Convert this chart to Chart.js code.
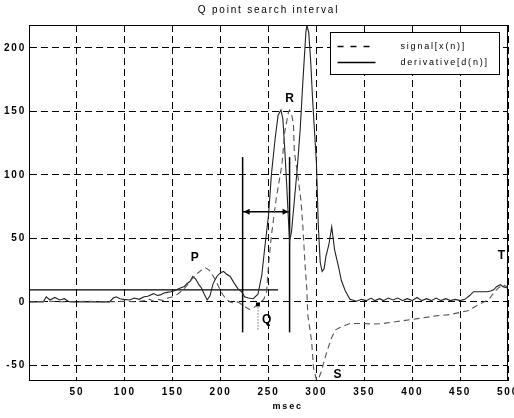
<!DOCTYPE html>
<html>
<head>
<meta charset="utf-8">
<script src="https://cdn.jsdelivr.net/npm/chart.js@4.4.1/dist/chart.umd.min.js"></script>
<style>
html, body { margin: 0; padding: 0; background: #fff; }
canvas { display: block; }
</style>
</head>
<body>
<canvas id="ecgChart" width="514" height="418"></canvas>
<script>
// values (x in msec)
const signalMs = [0, 20, 40, 60, 80, 100, 112, 120, 126, 130, 135, 140, 145, 150, 155, 160, 165, 170, 175, 180,
    184, 188, 191, 194, 198, 202, 206, 210, 214, 218, 222, 226, 230, 234, 237, 239, 242, 245, 248, 250,
    253, 258, 264, 267, 271, 272, 274, 276, 277, 281, 284, 286, 288, 290, 291, 295, 297, 300, 302, 305,
    311, 316, 320, 325, 335, 349, 359, 370, 384, 398, 411, 425, 439, 452, 458, 465, 472, 478, 481, 486,
    490, 495, 499];
const signalVal = [0, 0.5, 0, 0.5, 0, 0.5, 0, 1, 2, 0.5, 2, 1, 3, 4, 6, 9, 13, 18, 22, 25,
    27, 25, 22, 18, 12, 6, 2, 0, -1, 0, -2, -4, -6, -5, -3, -2, 0, 2, 8, 29,
    52, 81, 108, 134, 150, 151, 148, 140, 118, 97, 79, 58, 31, 10, -10, -31, -52, -61, -61, -55,
    -39, -28, -22, -20, -17, -17, -17.5, -17, -15.5, -14, -12.6, -11, -10, -8, -7, -4, -1, 1, 3, 8,
    11, 13.5, 12];

const derivMs = [0, 15, 18, 22, 27, 32, 37, 41, 46, 84, 88, 91, 95, 99, 105, 110, 115, 120, 124, 130,
    134, 137, 141, 144, 148, 151, 155, 158, 162, 165, 168, 171, 174, 177, 180, 183, 186, 189, 192, 196,
    200, 203, 206, 210, 214, 218, 222, 225, 229, 234, 239, 243, 246, 250, 253, 257, 260, 263, 265, 267,
    269, 271, 272, 274, 277, 280, 283, 286, 289, 290, 292, 294, 296, 298, 300, 302, 304, 306, 308, 310,
    313, 316, 319, 323, 326, 330, 335, 342, 347, 352, 357, 361, 366, 370, 375, 380, 385, 390, 395, 400,
    405, 410, 415, 420, 425, 430, 435, 440, 445, 450, 455, 460, 464, 470, 478, 482, 485, 488, 492, 495,
    499];
const derivVal = [0, 0, 4, 1.5, 3.5, 1.5, 2.5, 0.5, 0, 0, 3, 4, 2.5, 2, 1.5, 3, 2, 4, 4.5, 6.5,
    5, 5.5, 7, 7.5, 8, 8.5, 10, 11, 12, 14.5, 16, 20, 18, 14, 11, 6, 1.5, 5, 14, 20,
    23, 24, 22, 20, 15, 10.5, 8, 4, 3, 2.5, 6, 21, 42, 68, 100, 129, 147, 151, 144, 120,
    92, 62, 48, 55, 80, 105, 135, 175, 212, 218, 212, 190, 160, 135, 110, 60, 31, 24, 26, 36,
    45, 59, 41, 28, 17, 9, 2, 0.5, 2, 1, 3, 1, 2.5, 1, 3, 1.5, 3, 1, 2.5, 1,
    3.5, 1, 2.5, 1, 3, 1, 2.5, 1, 2, 1, 2, 5, 8, 8, 8, 8.5, 9.5, 12, 13.5, 12,
    11];

const xTicks = [50, 100, 150, 200, 250, 300, 350, 400, 450, 500];
const yTicks = [-50, 0, 50, 100, 150, 200];

// Q point search interval markers
const qWindow = [223, 272];
const qWindowSpan = [-24, 114];
const arrowLevel = 71;
const threshold = 9.5;
const thresholdEnd = 260;
const qPoint = [239, -2];
const qMarkerBottom = -22;

const waveNames = ["P", "Q", "R", "S", "T"];
const waveMs = [173, 248, 272, 322, 493];
const waveVal = [35, -14, 160, -57, 36];

const toPoints = (xs, ys) => xs.map((x, i) => ({ x: x, y: ys[i] }));

const FONT = "'Liberation Sans', Arial, sans-serif";
const SPACING = "1.8px";

const markerLine = (data, extra) => Object.assign({
    data: data,
    borderColor: "#000",
    borderWidth: 1.5,
    pointRadius: 0,
    showLine: true,
    fill: false
}, extra || {});

// extra drawing: frame, arrowheads, wave letters, legend, titles
const decorations = {
    id: "decorations",
    beforeUpdate(chart) {
        chart.ctx.letterSpacing = SPACING;
    },
    beforeDraw(chart) {
        chart.ctx.letterSpacing = SPACING;
    },
    afterDraw(chart) {
        const ctx = chart.ctx;
        const area = chart.chartArea;
        const xs = chart.scales.x;
        const ys = chart.scales.y;

        ctx.save();
        ctx.letterSpacing = SPACING;

        // frame
        ctx.strokeStyle = "#000";
        ctx.lineWidth = 1;
        ctx.strokeRect(Math.round(area.left) + 0.5, Math.round(area.top) + 0.5,
            Math.round(area.right - area.left) - 1, Math.round(area.bottom - area.top));

        // arrowheads of the search interval
        const ay = ys.getPixelForValue(arrowLevel);
        const ax1 = xs.getPixelForValue(qWindow[0]);
        const ax2 = xs.getPixelForValue(qWindow[1]);
        ctx.fillStyle = "#000";
        ctx.beginPath();
        ctx.moveTo(ax1 + 1, ay);
        ctx.lineTo(ax1 + 7, ay - 3);
        ctx.lineTo(ax1 + 7, ay + 3);
        ctx.closePath();
        ctx.fill();
        ctx.beginPath();
        ctx.moveTo(ax2 - 1, ay);
        ctx.lineTo(ax2 - 7, ay - 3);
        ctx.lineTo(ax2 - 7, ay + 3);
        ctx.closePath();
        ctx.fill();

        // Q point dot
        ctx.fillRect(xs.getPixelForValue(qPoint[0]) - 2, ys.getPixelForValue(qPoint[1]) - 2, 4, 4);

        // wave letters
        ctx.letterSpacing = "0px";
        ctx.font = "bold 12px " + FONT;
        ctx.textAlign = "center";
        ctx.textBaseline = "middle";
        waveNames.forEach((name, i) => {
            ctx.fillText(name, xs.getPixelForValue(waveMs[i]), ys.getPixelForValue(waveVal[i]));
        });
        ctx.letterSpacing = SPACING;

        // legend box
        const bw = 169, bh = 42;
        const bx = Math.round(area.right - 9 - bw) + 0.5;
        const by = Math.round(area.top + 7) + 0.5;
        ctx.fillStyle = "#fff";
        ctx.fillRect(bx, by, bw, bh);
        ctx.strokeStyle = "#000";
        ctx.lineWidth = 1;
        ctx.strokeRect(bx, by, bw, bh);

        const sets = chart.data.datasets.slice(0, 2);
        const sampleDash = [[6, 7], []];
        ctx.font = "9px " + FONT;
        ctx.textAlign = "left";
        ctx.fillStyle = "#000";
        sets.forEach((ds, i) => {
            const ly = by + 14 + i * 16;
            ctx.beginPath();
            ctx.setLineDash(sampleDash[i]);
            ctx.strokeStyle = "#000";
            ctx.lineWidth = 1.3;
            ctx.moveTo(bx + 7, ly);
            ctx.lineTo(bx + 45, ly);
            ctx.stroke();
            ctx.setLineDash([]);
            ctx.fillText(ds.label, bx + 70, ly);
        });

        // title and axis name
        ctx.font = "10px " + FONT;
        ctx.textAlign = "center";
        ctx.fillText("Q point search interval", (area.left + area.right) / 2, 10);
        ctx.font = "bold 9px " + FONT;
        ctx.fillText("msec", xs.getPixelForValue(270), 407);

        ctx.restore();
    }
};

const chart = new Chart(document.getElementById("ecgChart"), {
    type: "scatter",
    data: {
        datasets: [
            {
                label: "signal[x(n)]",
                data: toPoints(signalMs, signalVal),
                borderColor: "#555",
                borderWidth: 1.1,
                borderDash: [6, 4],
                pointRadius: 0,
                showLine: true
            },
            {
                label: "derivative[d(n)]",
                data: toPoints(derivMs, derivVal),
                borderColor: "#222",
                borderWidth: 1.1,
                pointRadius: 0,
                showLine: true
            },
            markerLine([{ x: 0, y: threshold }, { x: thresholdEnd, y: threshold }], { borderWidth: 1.2 }),
            markerLine([{ x: qWindow[0], y: qWindowSpan[0] }, { x: qWindow[0], y: qWindowSpan[1] }]),
            markerLine([{ x: qWindow[1], y: qWindowSpan[0] }, { x: qWindow[1], y: qWindowSpan[1] }]),
            markerLine([{ x: qWindow[0], y: arrowLevel }, { x: qWindow[1], y: arrowLevel }]),
            markerLine([{ x: qPoint[0], y: qPoint[1] }, { x: qPoint[0], y: qMarkerBottom }],
                { borderWidth: 1, borderDash: [1, 2], borderColor: "#333" })
        ]
    },
    options: {
        responsive: false,
        animation: false,
        devicePixelRatio: 1,
        layout: { padding: { top: 25, right: 6, bottom: 0, left: 0 } },
        plugins: {
            legend: { display: false },
            tooltip: { enabled: false }
        },
        scales: {
            x: {
                type: "linear",
                min: 0,
                max: 500,
                afterBuildTicks: s => { s.ticks = xTicks.map(v => ({ value: v })); },
                afterFit: s => { s.height = 38; s.paddingLeft = 0; s.paddingRight = 0; },
                grid: { color: "#000", lineWidth: 1, drawTicks: false },
                border: { display: true, color: "#000", width: 1, dash: [7, 4] },
                ticks: {
                    color: "#000",
                    padding: 6,
                    maxRotation: 0,
                    font: { family: FONT, size: 10, weight: "bold" }
                }
            },
            y: {
                type: "linear",
                min: -61.5,
                max: 218,
                afterBuildTicks: s => { s.ticks = yTicks.map(v => ({ value: v })); },
                afterFit: s => { s.width = 29; s.paddingTop = 0; s.paddingBottom = 0; },
                grid: { color: "#000", lineWidth: 1, drawTicks: false },
                border: { display: true, color: "#000", width: 1, dash: [7, 4] },
                ticks: {
                    color: "#000",
                    padding: 3,
                    font: { family: FONT, size: 10, weight: "bold" }
                }
            }
        }
    },
    plugins: [decorations]
});
</script>
</body>
</html>
